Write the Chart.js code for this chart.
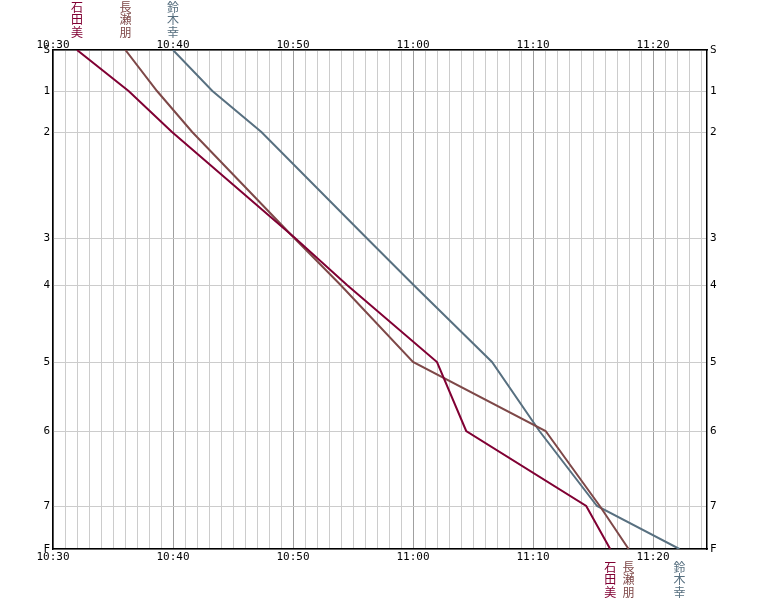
<!DOCTYPE html>
<html>
<head>
<meta charset="utf-8">
<script src="https://cdn.jsdelivr.net/npm/chart.js@4/dist/chart.umd.min.js"></script>
<style>
html,body{margin:0;padding:0;background:#fff;}
canvas{display:block;}
</style>
</head>
<body>
<canvas id="c" width="759" height="600"></canvas>
<script>
// Controls and their positions (distance along course, arbitrary units)
const controls = ['S','1','2','3','4','5','6','7','F'];
const controlPos = [0, 41, 82, 188, 235, 312, 381, 456, 499];

// Runners
const runnerNames = ['石田美', '長瀬朋', '鈴木幸'];
const runnerColors = ['#800033', '#7e4848', '#587080'];

// Passing times at each control
const ishidaTimes = ['10:32:00','10:36:18','10:39:55','10:50:10','10:54:30','11:02:00','11:04:26','11:14:26','11:16:26'];
const nagaseTimes = ['10:36:02','10:38:40','10:41:36','10:50:06','10:53:58','11:00:00','11:11:03','11:15:34','11:17:58'];
const suzukiTimes = ['10:40:00','10:43:17','10:47:22','10:56:08','11:00:03','11:06:35','11:10:32','11:15:20','11:22:12'];

// Time axis
const startTime = '10:30:00';
const endTime = '11:24:30';
const xTickLabels = ['10:30','10:40','10:50','11:00','11:10','11:20'];

function toSec(s){const p=s.split(':').map(Number);return p[0]*3600+p[1]*60+(p[2]||0);}
function toMin(s){return (toSec(s)-toSec(startTime))/60;}

const allTimes = [ishidaTimes, nagaseTimes, suzukiTimes];
const xMax = toMin(endTime);
const minuteTicks = [];
for (let m = 0; m <= Math.floor(xMax); m++) minuteTicks.push(m);

const tickFont = {family: 'DejaVu Sans Mono', size: 11};

const datasets = allTimes.map((times, i) => ({
  label: runnerNames[i],
  data: times.map((t, j) => ({x: toMin(t), y: controlPos[j]})),
  borderColor: runnerColors[i],
  borderWidth: 2,
  pointRadius: 0,
  tension: 0,
  fill: false,
  xAxisID: 'x',
  yAxisID: 'y'
}));

function xScale(pos, h, showGrid, pad){
  return {
    type: 'linear', axis: 'x', position: pos, min: 0, max: xMax,
    afterBuildTicks: s => { s.ticks = minuteTicks.map(v => ({value: v})); },
    afterFit: s => { s.height = h; },
    grid: {
      display: showGrid, drawTicks: false, lineWidth: 1,
      color: ctx => (ctx.tick && ctx.tick.value % 10 === 0) ? '#a0a0a0' : '#cccccc'
    },
    border: {color: '#000', width: 1.5},
    ticks: {
      autoSkip: false, maxRotation: 0, minRotation: 0, padding: pad, color: '#000', font: tickFont,
      callback: v => (v % 10 === 0) ? xTickLabels[v / 10] : ''
    }
  };
}
function yScale(pos, w, showGrid){
  return {
    type: 'linear', axis: 'y', position: pos, min: 0, max: controlPos[controlPos.length-1], reverse: true,
    afterBuildTicks: s => { s.ticks = controlPos.map(v => ({value: v})); },
    afterFit: s => { s.width = w; },
    grid: {display: showGrid, drawTicks: false, lineWidth: 1, color: '#cccccc'},
    border: {color: '#000', width: 1.5},
    ticks: {
      autoSkip: false, padding: 3, color: '#000', font: tickFont,
      callback: v => { const k = controlPos.indexOf(v); return k >= 0 ? controls[k] : ''; }
    }
  };
}

const namesPlugin = {
  id: 'names',
  afterDraw(chart){
    const ctx = chart.ctx;
    ctx.save();
    ctx.font = '12px "Noto Sans CJK JP"';
    ctx.textAlign = 'center';
    ctx.textBaseline = 'middle';
    chart.data.datasets.forEach((ds, i) => {
      const meta = chart.getDatasetMeta(i);
      const first = meta.data[0], last = meta.data[meta.data.length-1];
      ctx.fillStyle = runnerColors[i];
      const chars = Array.from(runnerNames[i]);
      chars.forEach((ch, k) => {
        ctx.fillText(ch, first.x, 7 + k * 12.5);
        ctx.fillText(ch, last.x, 567 + k * 12.5);
      });
    });
    ctx.restore();
  }
};

new Chart(document.getElementById('c'), {
  type: 'line',
  data: {datasets},
  options: {
    responsive: false, animation: false,
    layout: {padding: 0},
    plugins: {legend: {display: false}, tooltip: {enabled: false}},
    scales: {
      x: xScale('top', 50, true, -2),
      x2: xScale('bottom', 51, false, 2),
      y: yScale('left', 53, true),
      y2: yScale('right', 52, false)
    }
  },
  plugins: [namesPlugin]
});
</script>
</body>
</html>
